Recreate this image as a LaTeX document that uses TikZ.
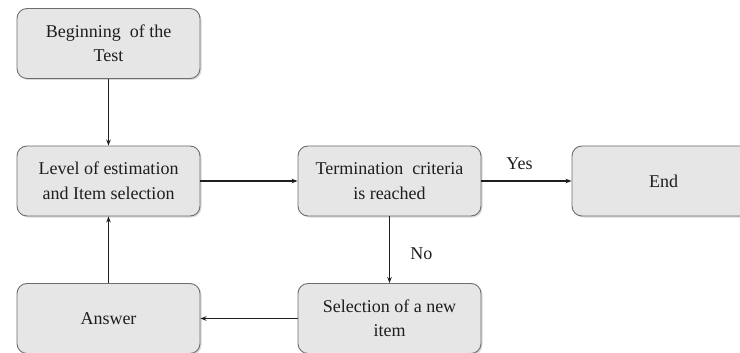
\documentclass[tikz,border=0pt]{standalone}
\usepackage{fontspec}
\setmainfont{Liberation Serif}
\usetikzlibrary{arrows.meta,shadows}
\definecolor{boxfill}{HTML}{E6E6E6}
\definecolor{boxline}{HTML}{6E6E6E}
\definecolor{inkdark}{HTML}{1E1E1E}
\begin{document}
\begin{tikzpicture}[x=1pt,y=-1pt,
  box/.style={draw=boxline, fill=boxfill, rounded corners=10pt,
    minimum width=183pt, minimum height=70pt, align=center, inner sep=0pt,
    text=inkdark, font=\fontsize{18}{24.5}\selectfont, line width=0.9pt,
    drop shadow={shadow xshift=1.5pt, shadow yshift=-1.5pt, opacity=0.3}},
  arr/.style={-{Stealth[length=6pt,width=4.5pt]}, line width=1.1pt, draw=inkdark},
  lbl/.style={text=inkdark, font=\fontsize{18}{22}\selectfont}]
  \useasboundingbox (0,0) rectangle (740,353);
  \begin{scope}
    \clip (0,0) rectangle (740,353);
    \node[box] (begin) at (108.5,43.5) {Beginning\ \ of the\\Test};
    \node[box] (level) at (108.5,181) {Level of estimation\\and Item selection};
    \node[box] (term)  at (389.5,181) {Termination\ \ criteria\\is reached};
    \node[box] (end)   at (663.5,181) {End};
    \node[box] (answer) at (108.5,318.5) {Answer};
    \node[box] (select) at (389.5,318.5) {Selection of a new\\item};
  \end{scope}
  \draw[arr] (begin) -- (level);
  \draw[arr] (level) -- (term);
  \draw[arr] (term) -- node[lbl, above, yshift=7pt, xshift=-7pt] {Yes} (end);
  \draw[arr] (term) -- node[lbl, right, xshift=17pt, yshift=-4pt] {No} (select);
  \draw[arr] (select) -- (answer);
  \draw[arr] (answer) -- (level);
\end{tikzpicture}
\end{document}
